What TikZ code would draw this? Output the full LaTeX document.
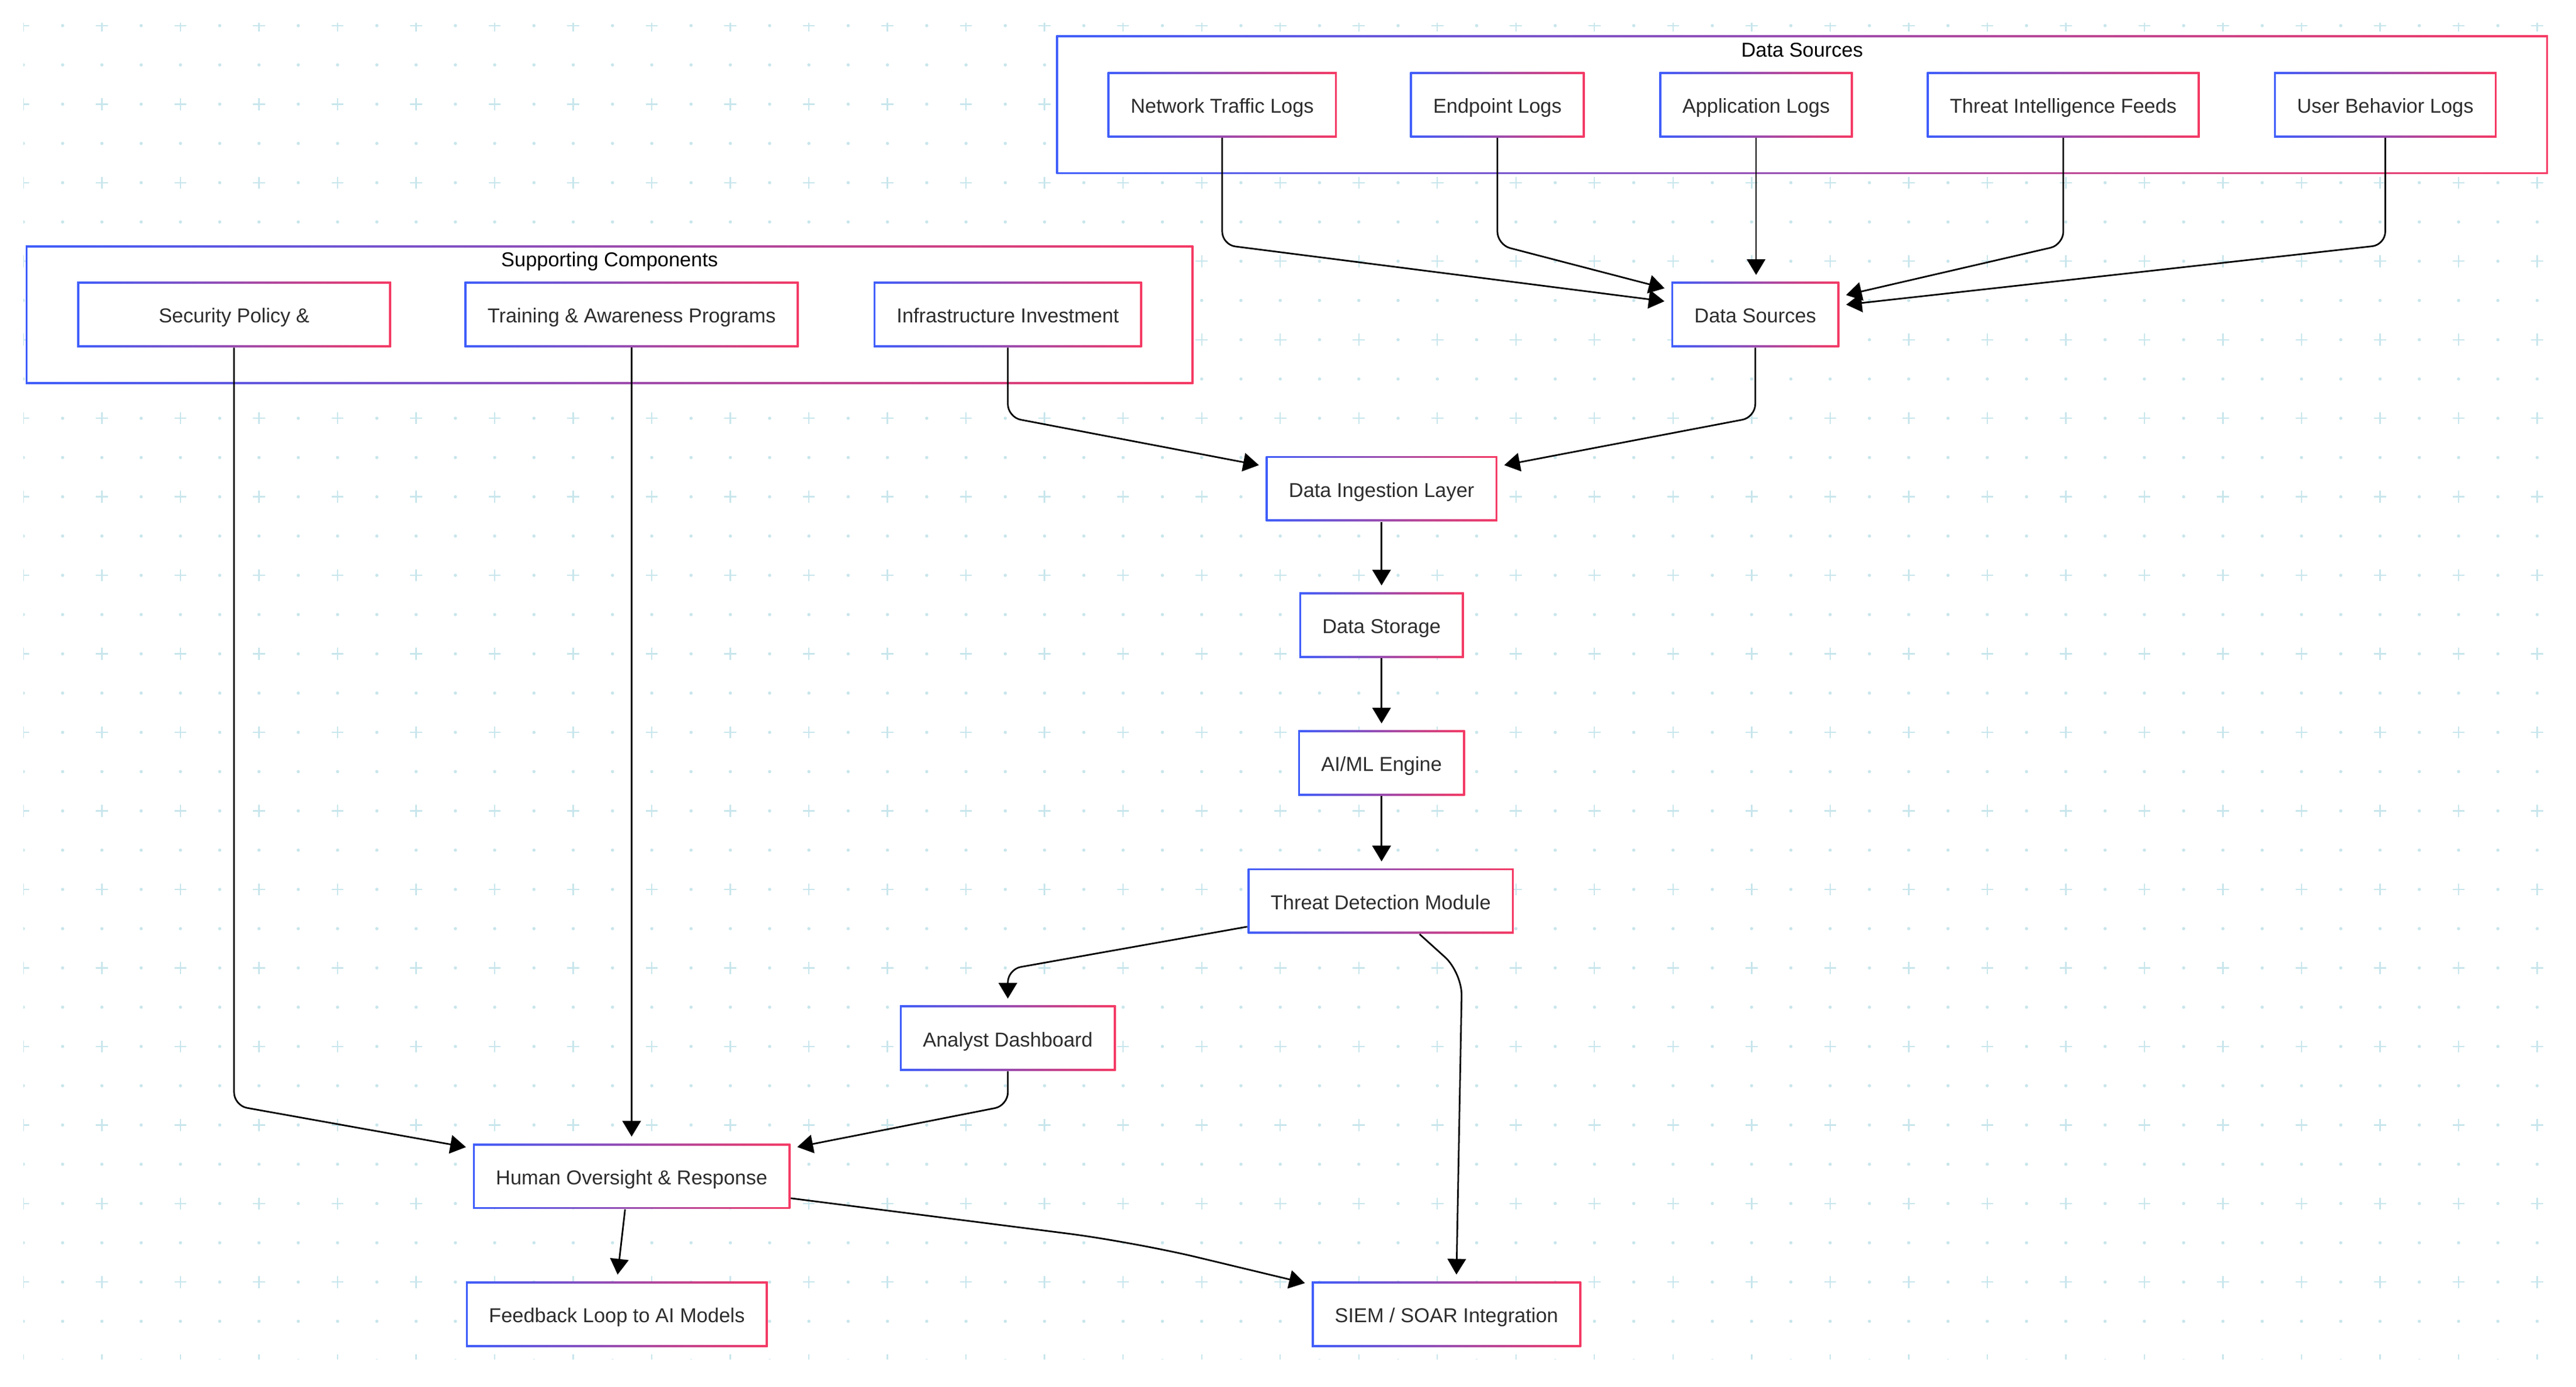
\documentclass[tikz,border=0pt]{standalone}
\usepackage{fontspec}
\setmainfont{Liberation Sans}
\usetikzlibrary{arrows.meta, fit}

\definecolor{gblue}{RGB}{63,94,251}
\definecolor{gpink}{RGB}{245,58,100}
\definecolor{txt}{RGB}{45,45,45}
\definecolor{dotc}{RGB}{200,230,236}

\pgfdeclarelayer{back}
\pgfdeclarelayer{mid}
\pgfsetlayers{back,mid,main}

\tikzset{
  grad/.style={fill=white,
    path picture={
      \shade[left color=gblue, right color=gpink] (path picture bounding box.south west) rectangle (path picture bounding box.north east);
      \fill[white] ([shift={(0.85pt,0.85pt)}]path picture bounding box.south west) rectangle ([shift={(-0.85pt,-0.85pt)}]path picture bounding box.north east);
    }},
  box/.style={grad, font=\fontsize{8.7}{10}\selectfont, text=txt, inner xsep=0.35cm, inner ysep=0pt,
    minimum height=0.9925cm, text height=0.72em, text depth=0pt},
  group/.style={grad, inner xsep=0.775cm, inner ysep=0.55cm},
  grouptitle/.style={font=\fontsize{8.7}{10}\selectfont, text=black, anchor=base, inner sep=0pt},
  flow/.style={draw=black, line width=0.7pt, rounded corners=0.2cm, shorten >=0.1cm,
    -{Triangle[length=6.8pt, width=8pt]}},
}

\begin{document}
\begin{tikzpicture}[x=0.025cm, y=-0.025cm]
  \useasboundingbox (0,0) rectangle (1568.1,844.3);

  % dotted background
  \begin{pgfonlayer}{back}
    \fill[white] (0,0) rectangle (1568.1,844.3);
    \begin{scope}
      \clip (14.2,14.2) rectangle (1550,827.3);
      \foreach \j in {0,...,34}
        \foreach \k in {0,...,64}{
          \pgfmathtruncatemacro\m{mod(\j,2)+mod(\k,2)}
          \coordinate (g) at (14.2+23.91*\k, 15.6+23.9*\j);
          \ifnum\m=0
            \draw[dotc, line width=0.6pt] ([xshift=-2.6pt]g) -- ([xshift=2.6pt]g) ([yshift=-2.6pt]g) -- ([yshift=2.6pt]g);
          \else
            \fill[dotc] (g) circle (0.7pt);
          \fi
        }
    \end{scope}
  \end{pgfonlayer}

  % sources
  \node[box] (net) at (744,63.75) {Network Traffic Logs};
  \node[box] (end) at (911.5,63.75) {Endpoint Logs};
  \node[box] (app) at (1069,63.75) {Application Logs};
  \node[box] (thr) at (1256,63.75) {Threat Intelligence Feeds};
  \node[box] (usr) at (1452,63.75) {User Behavior Logs};

  % supporting components
  \node[box, minimum width=4.775cm] (sec) at (142.5,191.5) {Security Policy \&};
  \node[box] (trn) at (384.5,191.5) {Training \& Awareness Programs};
  \node[box] (inf) at (613.5,191.5) {Infrastructure Investment};

  % pipeline
  \node[box] (ds) at (1068.5,191.5) {Data Sources};
  \node[box] (ing) at (841,297.5) {Data Ingestion Layer};
  \node[box] (sto) at (841,380.5) {Data Storage};
  \node[box] (aim) at (841,464.5) {AI/ML Engine};
  \node[box] (det) at (840.5,548.5) {Threat Detection Module};
  \node[box] (ana) at (613.5,632) {Analyst Dashboard};
  \node[box] (hum) at (384.5,716) {Human Oversight \& Response};
  \node[box] (fb) at (375.5,800) {Feedback Loop to AI Models};
  \node[box] (siem) at (880.5,800) {SIEM / SOAR Integration};

  \begin{pgfonlayer}{mid}
    \node[group, fit=(net)(usr)] (dsgrp) {};
    \node[group, fit=(sec)(inf)] (supgrp) {};
  \end{pgfonlayer}
  \node[grouptitle] (dstitle) at ([yshift=-0.3325cm]dsgrp.north) {Data Sources};
  \node[grouptitle] (suptitle) at ([yshift=-0.3325cm]supgrp.north) {Supporting Components};

  % bend rows
  \coordinate (dsrow) at (0,149);
  \coordinate (ingrow) at (0,254);
  \coordinate (anarow) at (0,590);
  \coordinate (humrow) at (0,673);
  \coordinate (sbend) at (890,592);
  \coordinate (hsbend) at (690,756);

  \draw[flow] (net.south) -- (net.south |- dsrow) -- ([yshift=0.19cm]ds.west);
  \draw[flow] (end.south) -- (end.south |- dsrow) -- ([yshift=0.375cm]ds.west);
  \draw[flow] (app.south) -- (app.south |- ds.north);
  \draw[flow] (thr.south) -- (thr.south |- dsrow) -- ([yshift=0.275cm]ds.east);
  \draw[flow] (usr.south) -- (usr.south |- dsrow) -- ([yshift=0.14cm]ds.east);
  \draw[flow] (ds.south) -- (ds.south |- ingrow) -- ([yshift=0.34cm]ing.east);
  \draw[flow] (inf.south) -- (inf.south |- ingrow) -- ([yshift=0.34cm]ing.west);
  \draw[flow] (ing) -- (sto);
  \draw[flow] (sto) -- (aim);
  \draw[flow] (aim.south) -- (aim.south |- det.north);
  \draw[flow] ([yshift=-0.39cm]det.west) -- (ana.north |- anarow) -- (ana.north);
  \draw[flow, rounded corners=0.35cm] ([xshift=0.59cm]det.south) -- (sbend) -- ([xshift=0.15cm]siem.north);
  \draw[flow] (sec.south) -- (sec.south |- humrow) -- ([yshift=0.425cm]hum.west);
  \draw[flow] (trn) -- (hum);
  \draw[flow] (ana.south) -- (ana.south |- humrow) -- ([yshift=0.425cm]hum.east);
  \draw[flow] ([xshift=-0.1cm]hum.south) -- (fb.north);
  \draw[flow, rounded corners=1cm] ([yshift=-0.335cm]hum.east) -- (hsbend) -- ([yshift=0.45cm]siem.west);
\end{tikzpicture}
\end{document}
